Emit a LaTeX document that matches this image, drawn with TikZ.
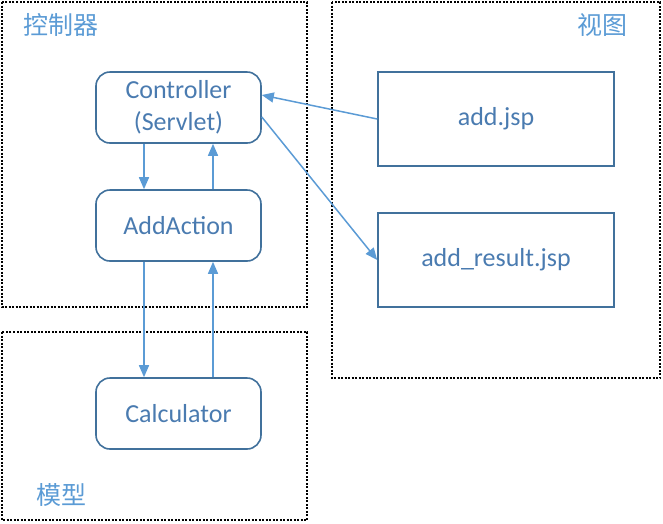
\documentclass[tikz,border=0pt]{standalone}
\usepackage{fontspec}
\setmainfont{Carlito}
\newfontfamily\cjk{Noto Sans CJK SC}
\usetikzlibrary{arrows.meta}
\definecolor{boxc}{HTML}{41719C}
\definecolor{txtc}{HTML}{4A7BB0}
\definecolor{arrc}{HTML}{5B9BD5}
\definecolor{lblc}{HTML}{5B9BD5}
\tikzset{
  region/.style={draw=black, line width=1.3pt, dash pattern=on 2pt off 1.5pt},
  rbox/.style={draw=boxc, line width=1.6pt, rounded corners=14pt, minimum width=165pt, minimum height=71pt, text=txtc, align=center, inner sep=0pt, font=\fontsize{26}{32}\selectfont},
  sbox/.style={draw=boxc, line width=1.6pt, minimum width=236pt, minimum height=94pt, text=txtc, inner sep=0pt, font=\fontsize{26}{32}\selectfont},
  arr/.style={draw=arrc, line width=1.5pt, -{Triangle[length=12pt,width=10pt]}},
  lbl/.style={text=lblc, inner sep=0pt, font=\cjk\fontsize{25}{30}\selectfont}
}
\begin{document}
\begin{tikzpicture}[x=1pt,y=-1pt]
\useasboundingbox (0,0) rectangle (663,523);
\draw[region] (2,2) rectangle (307,307);
\draw[region] (2,332) rectangle (307,520);
\draw[region] (332,2) rectangle (660,378);
\node[lbl] (lc) at (61,25) {控制器};
\node[lbl] (lv) at (602,25) {视图};
\node[lbl] (lm) at (61,495) {模型};
\node[rbox] (ctrl) at (178.5,107.5) {Controller\\(Servlet)};
\node[rbox] (act) at (178.5,225.5) {AddAction};
\node[rbox] (calc) at (178.5,413.5) {Calculator};
\node[sbox] (add) at (496,119) {add.jsp};
\node[sbox] (res) at (496,260) {add\_result.jsp};
\draw[arr] ([xshift=-34.5pt]ctrl.south) -- ([xshift=-34.5pt]act.north);
\draw[arr] ([xshift=34.5pt]act.north) -- ([xshift=34.5pt]ctrl.south);
\draw[arr] ([xshift=-34.5pt]act.south) -- ([xshift=-34.5pt]calc.north);
\draw[arr] ([xshift=34.5pt]calc.north) -- ([xshift=34.5pt]act.south);
\draw[arr] (add.west) -- ([yshift=12.5pt]ctrl.east);
\draw[arr] ([yshift=-9.5pt]ctrl.east) -- (res.west);
\end{tikzpicture}
\end{document}
